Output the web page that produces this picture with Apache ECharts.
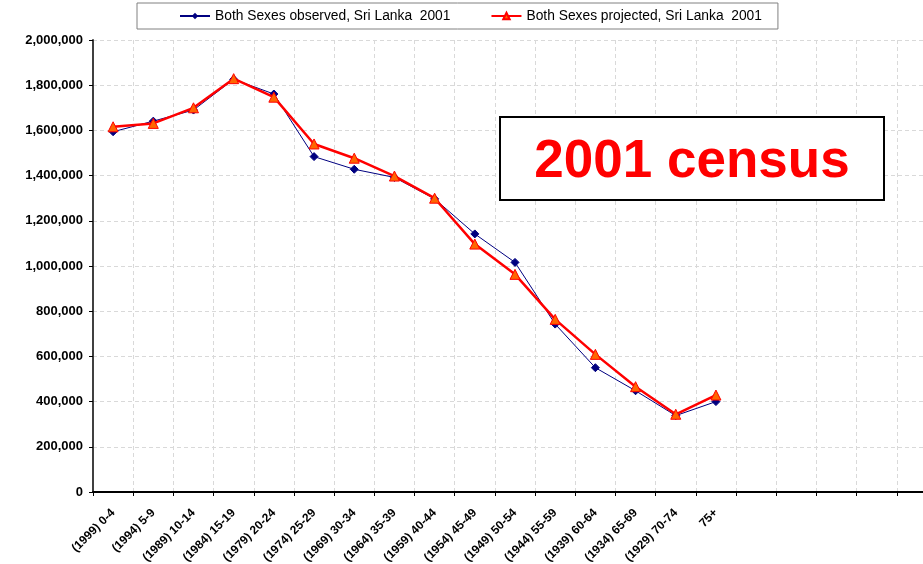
<!DOCTYPE html>
<html>
<head>
<meta charset="utf-8">
<script src="https://cdn.jsdelivr.net/npm/echarts@6/dist/echarts.min.js"></script>
<style>
  html, body { margin: 0; padding: 0; background: #fff; }
  #main { width: 923px; height: 564px; }
</style>
</head>
<body>
<div id="main"></div>
<script>
// age groups (birth cohort) - the axis continues with empty slots to the right
var ageGroups = ['(1999) 0-4', '(1994) 5-9', '(1989) 10-14', '(1984) 15-19', '(1979) 20-24',
  '(1974) 25-29', '(1969) 30-34', '(1964) 35-39', '(1959) 40-44', '(1954) 45-49',
  '(1949) 50-54', '(1944) 55-59', '(1939) 60-64', '(1934) 65-69', '(1929) 70-74', '75+',
  '', '', '', '', ''];

var observed = [1594000, 1641000, 1690000, 1826000, 1761000, 1484000, 1428000, 1392000,
  1297000, 1142000, 1016000, 743000, 550000, 448000, 338000, 400000];

var projected = [1616000, 1631000, 1700000, 1829000, 1747000, 1540000, 1477000, 1398000,
  1300000, 1097000, 963000, 764000, 609000, 466000, 344000, 429000];

var seriesNames = ['Both Sexes observed, Sri Lanka  2001', 'Both Sexes projected, Sri Lanka  2001'];
var boxLabel = '2001 census';

var chart = echarts.init(document.getElementById('main'));

var fontFam = 'Arial, "Liberation Sans", Helvetica, sans-serif';

chart.setOption({
  animation: false,
  backgroundColor: '#ffffff',
  textStyle: { fontFamily: fontFam },
  // plot runs past the right edge of the picture (cropped)
  grid: { left: 93, top: 40, width: 844, height: 452, containLabel: false, outerBoundsMode: 'none' },
  legend: {
    left: 137,
    top: 3,
    padding: [6, 16, 6, 42],
    itemGap: 40,
    itemWidth: 30,
    itemHeight: 8,
    borderColor: '#808080',
    borderWidth: 1,
    textStyle: { color: '#000', fontSize: 13.8, fontFamily: fontFam },
    data: seriesNames
  },
  xAxis: {
    type: 'category',
    data: ageGroups,
    boundaryGap: true,
    axisLine: { lineStyle: { color: '#000', width: 2 } },
    axisTick: { show: true, length: 4, lineStyle: { color: '#000' } },
    axisLabel: {
      rotate: 45,
      interval: 0,
      margin: 19,
      color: '#000',
      fontWeight: 'bold',
      fontSize: 12,
      fontFamily: fontFam
    },
    splitLine: { show: true, lineStyle: { color: '#d9d9d9', type: [4, 3] } }
  },
  yAxis: {
    type: 'value',
    min: 0,
    max: 2000000,
    interval: 200000,
    axisLine: { show: true, lineStyle: { color: '#404040', width: 2 } },
    axisTick: { show: true, length: 4, lineStyle: { color: '#000' } },
    axisLabel: {
      color: '#000',
      fontWeight: 'bold',
      fontSize: 13,
      margin: 10,
      fontFamily: fontFam,
      formatter: function (v) { return v.toLocaleString('en-US'); }
    },
    splitLine: { show: true, lineStyle: { color: '#d9d9d9', type: [4, 3] } }
  },
  series: [
    {
      name: seriesNames[0],
      type: 'line',
      data: observed,
      symbol: 'diamond',
      symbolSize: 8,
      lineStyle: { color: '#000080', width: 1 },
      itemStyle: { color: '#000080', borderColor: '#000080' },
      z: 2
    },
    {
      name: seriesNames[1],
      type: 'line',
      data: projected,
      symbol: 'triangle',
      symbolSize: 10,
      lineStyle: { color: '#ff0000', width: 2.5 },
      itemStyle: { color: '#ff6600', borderColor: '#ff0000', borderWidth: 1 },
      z: 3
    }
  ],
  graphic: [
    {
      type: 'rect',
      shape: { x: 500, y: 117, width: 384, height: 83 },
      style: { fill: '#ffffff', stroke: '#000', lineWidth: 2 },
      z: 10
    },
    {
      type: 'text',
      x: 692,
      y: 162,
      style: {
        text: boxLabel,
        fill: '#ff0000',
        font: 'bold 53px ' + fontFam,
        align: 'center',
        verticalAlign: 'middle'
      },
      z: 11
    }
  ]
});
</script>
</body>
</html>
